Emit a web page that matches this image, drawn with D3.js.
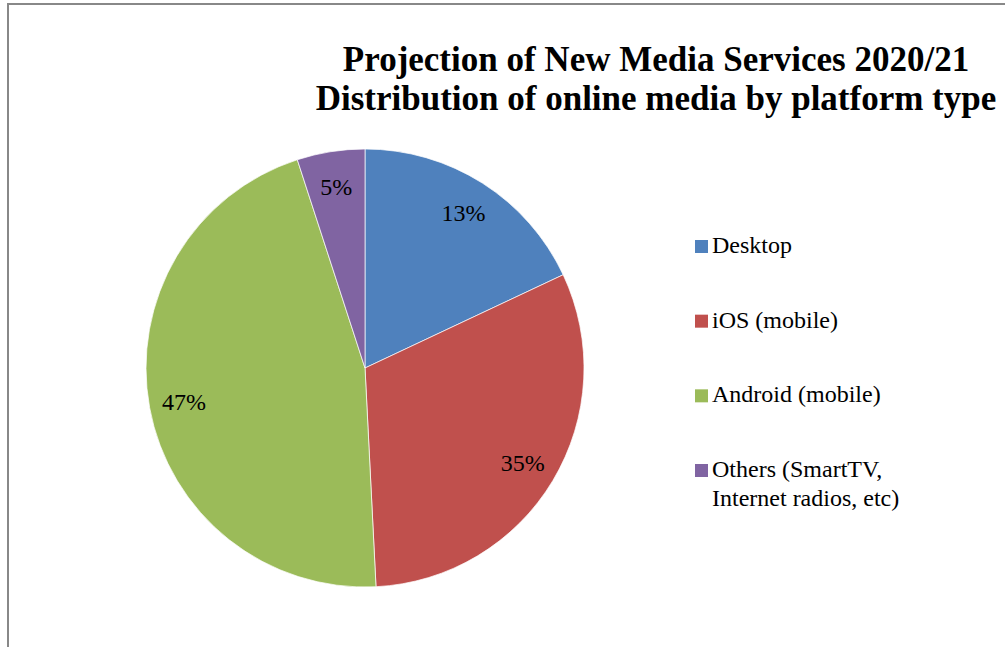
<!DOCTYPE html>
<html>
<head>
<meta charset="utf-8">
<script src="https://cdn.jsdelivr.net/npm/d3@7"></script>
<style>
  body { margin: 0; background: #fff; }
</style>
</head>
<body>
<div id="chart"></div>
<script>
// platform categories
const platforms = ["Desktop", "iOS (mobile)", "Android (mobile)", "Others (SmartTV, Internet radios, etc)"];
// slice sizes as drawn in the picture (%)
const sliceShares = [18, 31.2, 45.8, 5];
// percentage labels printed on the slices
const shareLabels = ["13%", "35%", "47%", "5%"];
const sliceColors = ["#4f81bd", "#c0504d", "#9bbb59", "#8064a2"];
const titleLines = ["Projection of New Media Services 2020/21", "Distribution of online media by platform type"];

(function() {
  const width = 1005, height = 647;
  const serif = '"Liberation Serif"';

  const svg = d3.select("#chart").append("svg")
    .attr("width", width)
    .attr("height", height);

  // chart frame (right/bottom edges fall outside the crop)
  svg.append("rect")
    .attr("x", 8).attr("y", 4)
    .attr("width", width + 20).attr("height", height + 20)
    .attr("fill", "#fff")
    .attr("stroke", "#888")
    .attr("stroke-width", 2);

  // title
  svg.append("text")
    .attr("x", 656)
    .attr("y", 71)
    .attr("text-anchor", "middle")
    .style("font-family", serif)
    .style("font-size", "35px")
    .style("font-weight", "bold")
    .selectAll("tspan")
    .data(titleLines)
    .join("tspan")
    .attr("x", 656)
    .attr("dy", (d, i) => i === 0 ? 0 : 39)
    .text(d => d);

  const cx = 365, cy = 368, radius = 219;

  const color = d3.scaleOrdinal().domain(platforms).range(sliceColors);

  const pie = d3.pie()
    .sort(null)
    .value((d, i) => sliceShares[i]);

  const arcs = pie(platforms);

  const arc = d3.arc().innerRadius(0).outerRadius(radius);
  const labelArc = d3.arc().innerRadius(184).outerRadius(184);

  const g = svg.append("g").attr("transform", `translate(${cx},${cy})`);

  g.selectAll("path")
    .data(arcs)
    .join("path")
    .attr("d", arc)
    .attr("fill", d => color(d.data))
    .attr("stroke", "#fff")
    .attr("stroke-width", 0.7);

  g.selectAll("text.lbl")
    .data(arcs)
    .join("text")
    .attr("class", "lbl")
    .attr("transform", d => `translate(${labelArc.centroid(d)})`)
    .attr("text-anchor", "middle")
    .attr("dy", "0.35em")
    .style("font-family", serif)
    .style("font-size", "24px")
    .text(d => shareLabels[d.index]);

  // legend
  const legend = svg.append("g").attr("transform", "translate(695,0)");
  const legendY = d3.scalePoint().domain(platforms).range([246, 470]);

  const items = legend.selectAll("g")
    .data(platforms)
    .join("g")
    .attr("transform", d => `translate(0,${legendY(d)})`);

  items.append("rect")
    .attr("x", 0).attr("y", -6)
    .attr("width", 13).attr("height", 13)
    .attr("fill", d => color(d));

  items.append("text")
    .attr("x", 17)
    .attr("y", 7)
    .style("font-family", serif)
    .style("font-size", "24px")
    .each(function(d) {
      const parts = d === platforms[3] ? ["Others (SmartTV,", "Internet radios, etc)"] : [d];
      d3.select(this).selectAll("tspan")
        .data(parts)
        .join("tspan")
        .attr("x", 17)
        .attr("dy", (p, i) => i === 0 ? 0 : 29)
        .text(p => p);
    });
})();
</script>
</body>
</html>
